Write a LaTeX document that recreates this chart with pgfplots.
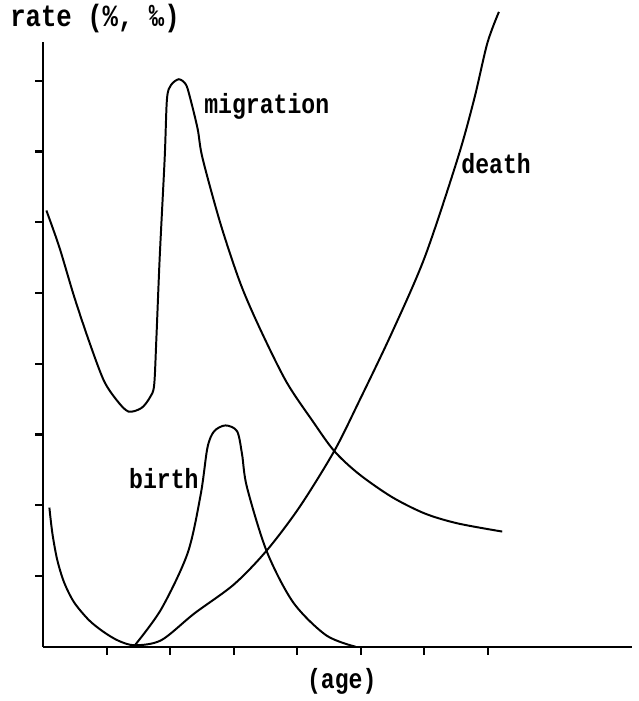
\documentclass[border=0pt]{standalone}
\usepackage{fontspec}
\setmainfont{Liberation Mono}
\usepackage{graphicx}
\usepackage{pgfplots}
\pgfplotsset{compat=1.18}
\newcommand\lab[1]{\scalebox{1}[1.2]{\bfseries #1}}
\tikzset{curve/.style={black, line width=1pt, mark=none, smooth, tension=0.5}}
\begin{document}
\begin{tikzpicture}
\begin{axis}[
  scale only axis,
  width=298.2pt, height=306pt,
  xmin=0, xmax=9.27, ymin=0, ymax=8.54,
  axis lines=left,
  axis line style={-, line width=1.2pt},
  xtick={1,2,3,4,5,6,7},
  ytick={1,2,3,4,5,6,7,8},
  xticklabels={}, yticklabels={},
  tick align=outside,
  major tick length=4pt,
  tick style={line width=1.1pt, black},
  clip=false,
]
% migration
\addplot[curve] coordinates {
(0.051,6.165) (0.254,5.649) (0.487,4.951) (0.720,4.324) (0.953,3.766)
(1.156,3.487) (1.342,3.324) (1.549,3.375) (1.684,3.529) (1.747,3.696)
(1.782,4.351) (1.835,5.509) (1.913,6.904) (1.949,7.741) (2.011,7.936)
(2.135,8.020) (2.244,7.950) (2.306,7.782) (2.431,7.322) (2.509,6.904)
(2.793,5.974) (3.104,5.137) (3.415,4.491) (3.830,3.742) (4.246,3.184)
(4.582,2.766) (4.970,2.441) (5.490,2.116) (6.008,1.883) (6.526,1.743)
(7.226,1.628)
};
% death
\addplot[curve] coordinates {
(0.098,1.967) (0.145,1.604) (0.222,1.227) (0.331,0.907) (0.487,0.628)
(0.720,0.377) (0.953,0.209) (1.188,0.084) (1.446,0.021) (1.860,0.093)
(2.379,0.47) (3.002,0.88) (3.519,1.36) (4.037,1.976) (4.582,2.766)
(4.970,3.463) (5.490,4.439) (6.008,5.509) (6.526,6.904) (6.785,7.741)
(6.992,8.531) (7.174,8.972)
};
% birth
\addplot[curve] coordinates {
(1.446,0.024) (1.860,0.534) (2.275,1.325) (2.482,2.162) (2.586,2.813)
(2.691,3.045) (2.871,3.128) (3.053,3.045) (3.131,2.720) (3.208,2.255)
(3.519,1.349) (3.935,0.628) (4.453,0.163) (4.919,0)
};
\node[font=\fontsize{11.7}{14}\selectfont] at (axis cs:3.52,7.63) {\lab{migration}};
\node[font=\fontsize{11.7}{14}\selectfont] at (axis cs:7.13,6.83) {\lab{death}};
\node[font=\fontsize{11.7}{14}\selectfont] at (axis cs:1.90,2.37) {\lab{birth}};
\node[font=\fontsize{11.7}{14}\selectfont] at (axis cs:4.70,-0.49) {\lab{(age)}};
\node[font=\fontsize{13}{15}\selectfont, anchor=west, inner sep=0pt] at (axis cs:-0.524,8.88) {\lab{rate (\%, ‰)}};
\path ([shift={(-21.85pt,-23pt)}]rel axis cs:0,0) rectangle ([shift={(3.5pt,21.5pt)}]rel axis cs:1,1);
\end{axis}
\end{tikzpicture}
\end{document}
